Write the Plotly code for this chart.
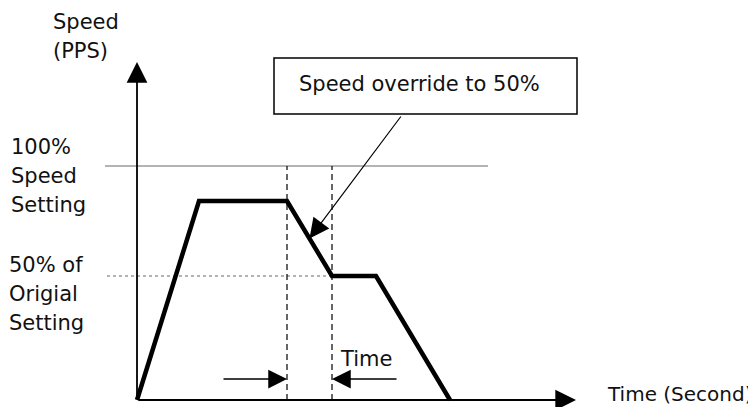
import plotly.graph_objects as go

# ---- data (schematic speed profile) ----
time = [0, 6.2, 15.0, 19.5, 23.9, 31.3]          # time units
speed = [0, 85, 85, 53, 53, 0]                    # speed, % of full scale
full_speed = 100                                  # 100% speed setting level
half_speed = 53                                   # 50% of original setting level
override_start = time[2]
override_end = time[3]

# ---- layout helpers (pixel geometry of the 756x407 window; page body has 8px margin) ----
OFF = 8
W, H = 756 - OFF, 407 - OFF
X0_PX, Y0_PX = 137 - OFF, 400 - OFF
PX_PER_T, PX_PER_PCT = 10.0, 2.34

def tx(px):
    return (px - OFF - X0_PX) / PX_PER_T

def sy(py):
    return (Y0_PX - (py - OFF)) / PX_PER_PCT

FONT = dict(family="DejaVu Sans", size=21, color="#111111")

fig = go.Figure()

# reference lines
fig.add_trace(go.Scatter(x=[tx(105), tx(488)], y=[full_speed, full_speed], mode="lines",
                         line=dict(color="#9a9a9a", width=1.5), hoverinfo="skip"))
fig.add_trace(go.Scatter(x=[tx(107), override_end], y=[half_speed, half_speed], mode="lines",
                         line=dict(color="#9a9a9a", width=1.5, dash="dot"), hoverinfo="skip"))
# override window dashed verticals
for t in (override_start, override_end):
    fig.add_trace(go.Scatter(x=[t, t], y=[0, full_speed], mode="lines",
                             line=dict(color="black", width=1.2, dash="6px,4px"), hoverinfo="skip"))
# speed profile
fig.add_trace(go.Scatter(x=time, y=speed, mode="lines",
                         line=dict(color="black", width=4.5), hoverinfo="skip"))

annotations = []

def arrow(x0, y0, x1, y1, width=1.5, size=2.3):
    annotations.append(dict(x=x1, y=y1, ax=x0, ay=y0, xref="x", yref="y", axref="x", ayref="y",
                            text="", showarrow=True, arrowhead=2, arrowsize=size,
                            arrowwidth=width, arrowcolor="black", standoff=0, startstandoff=0))

# axes with arrowheads
arrow(0, 0, 0, sy(62), 1.8, 2.3)
arrow(0, 0, tx(576), 0, 1.8, 2.3)

# override-window time arrows
arrow(tx(222), sy(379), override_start, sy(379), 1.5, 2.5)
arrow(tx(398), sy(379), override_end, sy(379), 1.5, 2.5)

# callout arrow from box to decel slope
tip_t = override_start + 0.5 * (override_end - override_start)
tip_s = speed[2] + 0.5 * (speed[3] - speed[2])
arrow(tx(402), sy(115), tip_t, tip_s, 1.2, 3.3)

def label(text, px, py, anchor="left", size=21):
    annotations.append(dict(x=(px - OFF) / W, y=1 - (py - OFF) / H, xref="paper", yref="paper",
                            text=text, showarrow=False, xanchor=anchor, yanchor="middle",
                            font=dict(FONT, size=size), borderpad=0))

label("Speed", 52, 22)
label("(PPS)", 52, 51)
label("100%", 10, 147)
label("Speed", 10, 176)
label("Setting", 10, 205)
label("50% of", 8, 265)
label("Origial", 8, 294)
label("Setting", 8, 323)
label("Time (Second)", 754, 394, "right", 20)
label("Time", 366, 359, "center")
label("Speed override to 50%", 419, 84, "center")

shapes = [dict(type="rect", xref="x", yref="y", x0=tx(274), x1=tx(577), y0=sy(114), y1=sy(58),
               line=dict(color="black", width=1.5), fillcolor="white", layer="below")]

fig.update_layout(
    width=W, height=H, margin=dict(l=0, r=0, t=0, b=0),
    paper_bgcolor="white", plot_bgcolor="white", showlegend=False,
    xaxis=dict(range=[tx(OFF), tx(OFF + W)], visible=False, fixedrange=True),
    yaxis=dict(range=[sy(OFF + H), sy(OFF)], visible=False, fixedrange=True),
    annotations=annotations, shapes=shapes,
)

fig.write_html("out.html")
